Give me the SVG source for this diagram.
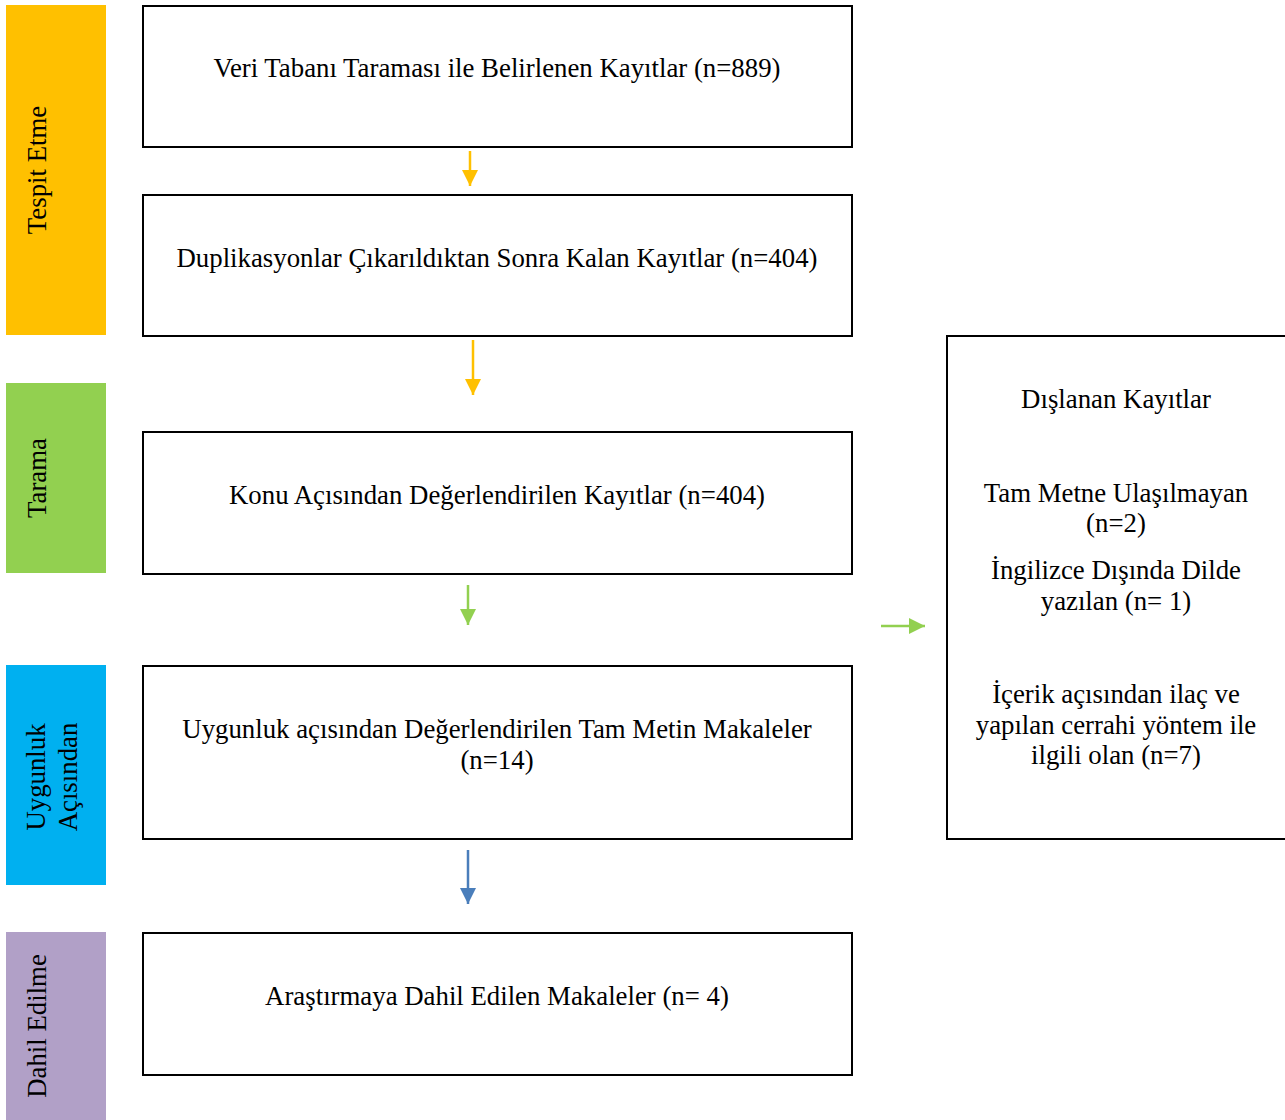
<svg xmlns="http://www.w3.org/2000/svg" width="1285" height="1120" viewBox="0 0 1285 1120">
<defs>
<style>
text{font-family:"Liberation Serif","Times New Roman",serif;font-size:26.8px;fill:#000;text-anchor:middle}
.box{fill:#fff;stroke:#000;stroke-width:2}
.conn line{stroke-width:2.5}
</style>
<marker id="ay" viewBox="0 0 10 10" refX="10" refY="5" markerWidth="16" markerHeight="17" markerUnits="userSpaceOnUse" orient="auto"><path d="M0,0L10,5L0,10z" fill="#FFC000"/></marker>
<marker id="ag" viewBox="0 0 10 10" refX="10" refY="5" markerWidth="16" markerHeight="17" markerUnits="userSpaceOnUse" orient="auto"><path d="M0,0L10,5L0,10z" fill="#92D050"/></marker>
<marker id="ab" viewBox="0 0 10 10" refX="10" refY="5" markerWidth="16" markerHeight="17" markerUnits="userSpaceOnUse" orient="auto"><path d="M0,0L10,5L0,10z" fill="#4A7EBB"/></marker>
</defs>
<rect width="1285" height="1120" fill="#fff"/>
<g id="phase-tespit"><rect x="6" y="5" width="100" height="330" fill="#FFC000"/><text transform="translate(46,170) rotate(-90)">Tespit Etme</text></g>
<g id="phase-tarama"><rect x="6" y="383" width="100" height="190" fill="#92D050"/><text transform="translate(46,478) rotate(-90)">Tarama</text></g>
<g id="phase-uygunluk"><rect x="6" y="665" width="100" height="220" fill="#00B0F0"/><text transform="translate(45,777) rotate(-90)">Uygunluk</text><text transform="translate(77,777) rotate(-90)">Açısından</text></g>
<g id="phase-dahil"><rect x="6" y="932" width="100" height="188" fill="#B1A0C7"/><text transform="translate(46,1026) rotate(-90)">Dahil Edilme</text></g>
<g id="node1"><rect class="box" x="143" y="6" width="709" height="141"/><text x="497" y="77">Veri Tabanı Taraması ile Belirlenen Kayıtlar (n=889)</text></g>
<g id="node2"><rect class="box" x="143" y="195" width="709" height="141"/><text x="497" y="267">Duplikasyonlar Çıkarıldıktan Sonra Kalan Kayıtlar (n=404)</text></g>
<g id="node3"><rect class="box" x="143" y="432" width="709" height="142"/><text x="497" y="504">Konu Açısından Değerlendirilen Kayıtlar (n=404)</text></g>
<g id="node4"><rect class="box" x="143" y="666" width="709" height="173"/><text x="497" y="738">Uygunluk açısından Değerlendirilen Tam Metin Makaleler</text><text x="497" y="769">(n=14)</text></g>
<g id="node5"><rect class="box" x="143" y="933" width="709" height="142"/><text x="497" y="1005">Araştırmaya Dahil Edilen Makaleler (n= 4)</text></g>
<g id="excluded"><rect class="box" x="947" y="336" width="345" height="503"/>
<text x="1116" y="408">Dışlanan Kayıtlar</text>
<text x="1116" y="502">Tam Metne Ulaşılmayan</text><text x="1116" y="532">(n=2)</text>
<text x="1116" y="579">İngilizce Dışında Dilde</text><text x="1116" y="610">yazılan (n= 1)</text>
<text x="1116" y="703">İçerik açısından ilaç ve</text><text x="1116" y="734">yapılan cerrahi yöntem ile</text><text x="1116" y="764">ilgili olan (n=7)</text>
</g>
<g id="connectors" class="conn">
<line x1="470" y1="151" x2="470" y2="186" stroke="#FFC000" marker-end="url(#ay)"/>
<line x1="473" y1="340" x2="473" y2="395" stroke="#FFC000" marker-end="url(#ay)"/>
<line x1="468" y1="585" x2="468" y2="625" stroke="#92D050" marker-end="url(#ag)"/>
<line x1="468" y1="850" x2="468" y2="904" stroke="#4A7EBB" marker-end="url(#ab)"/>
<line x1="881" y1="626" x2="925" y2="626" stroke="#92D050" marker-end="url(#ag)"/>
</g>
</svg>
